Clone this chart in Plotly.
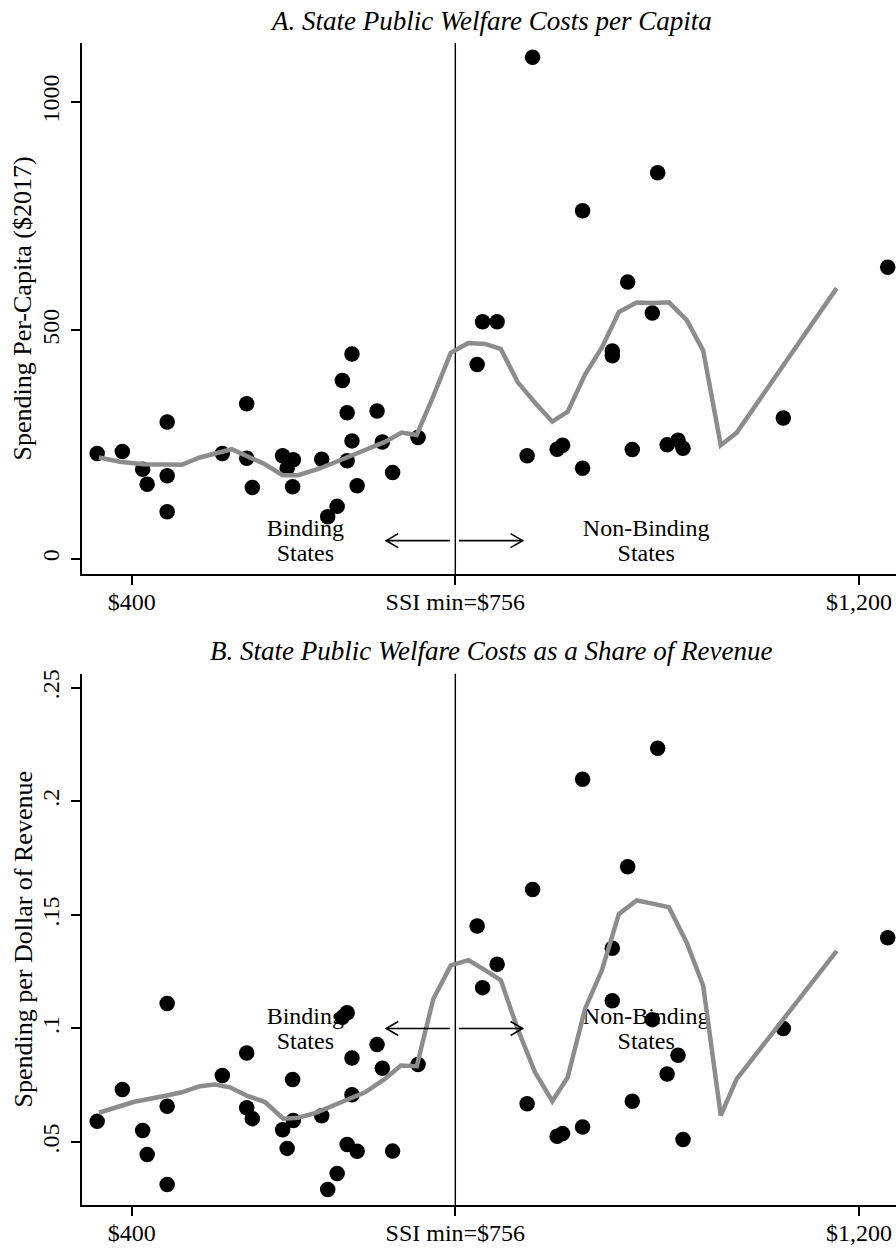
import plotly.graph_objects as go

# ---------------- data ----------------
ssi_level = [362, 389.7, 412, 417, 439, 439, 439, 499.7, 526.5, 526.5, 532.7, 566, 577.8, 571, 577,
             609, 615.6, 626, 631.7, 637, 642.3, 642.3, 637, 648, 669.9, 675.7, 687, 715,
             786, 802, 780, 928.7, 928.7, 972.7, 835, 868, 874, 896, 950.7, 989, 1001, 1006.5,
             1116.8, 841, 978.6, 896, 945.6, 1231.7]

welfare_per_capita = [230.6, 235, 196.3, 163.6, 299.7, 181.9, 103.4, 230.6, 339.7, 220.3, 156.4, 225.6,
                      216.8, 198.5, 157.9, 218.2, 92.5, 115, 390.5, 320, 448.7, 258.3, 214.7, 160.1,
                      323.7, 256.1, 189.1, 265.5, 519.2, 519.2, 425.4, 455, 444.5, 538.2, 225.6, 240,
                      248.7, 198.5, 239.3, 249.6, 259.6, 242.1, 308.5, 1098, 845, 762.2, 605.8, 638.5]

welfare_share = [0.0591, 0.0731, 0.0551, 0.0445, 0.111, 0.0658, 0.0313, 0.0793, 0.0892, 0.0651, 0.0603,
                 0.0554, 0.0595, 0.0472, 0.0775, 0.0616, 0.0291, 0.0361, 0.1049, 0.1069, 0.0870, 0.0708,
                 0.0489, 0.0459, 0.0929, 0.0825, 0.0460, 0.0841, 0.1180, 0.1283, 0.1451, 0.1353, 0.1122,
                 0.1039, 0.0669, 0.0525, 0.0537, 0.0566, 0.0680, 0.0800, 0.0882, 0.0511, 0.1000, 0.1612,
                 0.2234, 0.2098, 0.1712, 0.1400]

smooth_pc_x = [364, 387, 412.8, 455, 475, 510, 546.6, 566, 583, 607, 636.5, 662, 678.6, 697, 713.5,
               731.8, 751, 770.3, 788.7, 806, 824.6, 843.7, 862.7, 879.6, 898.7, 917, 936, 955.5,
               973, 991, 1010.6, 1028.7, 1048, 1065.6, 1175.6]
smooth_pc_y = [221.9, 212.5, 207.2, 205.9, 221.9, 240, 207.2, 183.2, 183.2, 197.9, 221.9, 243.7, 256.1,
               276.4, 271.4, 356.5, 451, 472.7, 470.6, 459.7, 387, 341.8, 300.4, 322.2, 403.6, 461.8,
               540.5, 561, 560, 561.5, 522.5, 455.9, 248.7, 276.4, 592.7]

smooth_sh_x = [364, 401.8, 438.5, 455, 475, 491.6, 508, 528, 546.6, 566.8, 583, 601.7, 621.8, 640,
               656.7, 678.6, 696, 713.5, 731.8, 751, 770.3, 788.7, 806, 824.6, 843.7, 862.7, 879.6,
               898.7, 917, 936, 955.5, 973, 991, 1010.6, 1028.7, 1048, 1065.6, 1175.6]
smooth_sh_y = [0.0629, 0.0676, 0.0705, 0.0719, 0.0746, 0.0753, 0.0741, 0.0702, 0.0676, 0.0603, 0.0607,
               0.0627, 0.0661, 0.0690, 0.0719, 0.0778, 0.0837, 0.0834, 0.1130, 0.1278, 0.1301, 0.1257,
               0.1213, 0.0998, 0.0807, 0.0680, 0.0785, 0.1086, 0.1254, 0.1505, 0.1564, 0.1550, 0.1534,
               0.1378, 0.1188, 0.0617, 0.0778, 0.1342]

x_tickvals = [400, 756, 1200]
x_ticktext = ["$400", "SSI min=$756", "$1,200"]
pc_tickvals = [0, 500, 1000]
pc_ticktext = ["0", "500", "1000"]
sh_tickvals = [0.05, 0.1, 0.15, 0.2, 0.25]
sh_ticktext = [".05", ".1", ".15", ".2", ".25"]

ssi_min = 756
titles = ["<i>A. State Public Welfare Costs per Capita</i>",
          "<i>B. State Public Welfare Costs as a Share of Revenue</i>"]
ytitles = ["Spending Per-Capita ($2017)", "Spending per Dollar of Revenue"]

# label / arrow placement (data units)
bind_x, nonbind_x = 591, 966
label_rows_pc = [62.6, 8.1]
label_rows_sh = [0.1045, 0.0936]
arrow_y_pc, arrow_y_sh = 40, 0.1
arrow_left = (750, 680)
arrow_right = (760, 830)

# ---------------- layout geometry ----------------
W, H = 896, 1249
FONT = "Liberation Serif"
GRAY = "#8c8c8c"


def fx(p):
    return p / W


def fy(p):
    return 1 - p / H


fig = go.Figure()

panels = [
    dict(xa="x", ya="y", yvals=welfare_per_capita, sx=smooth_pc_x, sy=smooth_pc_y,
         rows=label_rows_pc, ay=arrow_y_pc, hy=15.3),
    dict(xa="x2", ya="y2", yvals=welfare_share, sx=smooth_sh_x, sy=smooth_sh_y,
         rows=label_rows_sh, ay=arrow_y_sh, hy=0.00307),
]

shapes = []
for p in panels:
    # text labels (drawn under markers)
    fig.add_trace(go.Scatter(
        x=[bind_x, bind_x, nonbind_x, nonbind_x],
        y=[p["rows"][0], p["rows"][1], p["rows"][0], p["rows"][1]],
        text=["Binding", "States", "Non-Binding", "States"],
        mode="text", textposition="middle center",
        textfont=dict(family=FONT, size=24, color="black"),
        xaxis=p["xa"], yaxis=p["ya"], hoverinfo="skip", cliponaxis=False))
    fig.add_trace(go.Scatter(
        x=ssi_level, y=p["yvals"], mode="markers",
        marker=dict(size=15.5, color="black", line=dict(width=0)),
        xaxis=p["xa"], yaxis=p["ya"]))
    fig.add_trace(go.Scatter(
        x=p["sx"], y=p["sy"], mode="lines",
        line=dict(color=GRAY, width=4.5),
        xaxis=p["xa"], yaxis=p["ya"]))
    # vertical SSI line
    shapes.append(dict(type="line", xref=p["xa"], yref=p["ya"] + " domain",
                       x0=ssi_min, x1=ssi_min, y0=0, y1=1,
                       line=dict(color="black", width=1.4), layer="below"))
    # arrows
    hx = 13.2
    for start, tip in (arrow_left, arrow_right):
        sgn = 1 if tip < start else -1
        shapes.append(dict(type="line", xref=p["xa"], yref=p["ya"],
                           x0=start, x1=tip, y0=p["ay"], y1=p["ay"],
                           line=dict(color="black", width=1.6)))
        shapes.append(dict(type="path", xref=p["xa"], yref=p["ya"],
                           path=f"M {tip + sgn*hx},{p['ay'] + p['hy']} L {tip},{p['ay']} L {tip + sgn*hx},{p['ay'] - p['hy']}",
                           line=dict(color="black", width=1.6)))

axis_common = dict(showline=True, linecolor="black", linewidth=1.5, ticks="outside", ticklen=9,
                   tickwidth=1.5, tickcolor="black", showgrid=False, zeroline=False,
                   tickfont=dict(family=FONT, size=24, color="black"))

fig.update_layout(
    width=W, height=H, margin=dict(l=0, r=0, t=0, b=0),
    paper_bgcolor="white", plot_bgcolor="white", showlegend=False,
    xaxis=dict(domain=[fx(82), 1], range=[345.3, 1240.8], tickvals=x_tickvals, ticktext=x_ticktext,
               anchor="y", ticklabelstandoff=-4, **axis_common),
    yaxis=dict(domain=[fy(572), fy(39)], range=[-33.4, 1129.4], tickvals=pc_tickvals,
               ticktext=pc_ticktext, tickangle=-90, anchor="x", ticklabelstandoff=3, **axis_common),
    xaxis2=dict(domain=[fx(82), 1], range=[345.3, 1240.8], tickvals=x_tickvals, ticktext=x_ticktext,
                anchor="y2", ticklabelstandoff=-4, **axis_common),
    yaxis2=dict(domain=[fy(1205), fy(672)], range=[0.0222, 0.2562], tickvals=sh_tickvals,
                ticktext=sh_ticktext, tickangle=-90, anchor="x2", ticklabelstandoff=3, **axis_common),
    shapes=shapes,
    annotations=[
        dict(text=titles[0], x=fx(490.8), y=fy(17.5), xref="paper", yref="paper",
             showarrow=False, xanchor="center", yanchor="middle",
             font=dict(family=FONT, size=27, color="black")),
        dict(text=titles[1], x=fx(490.8), y=fy(649), xref="paper", yref="paper",
             showarrow=False, xanchor="center", yanchor="middle",
             font=dict(family=FONT, size=27, color="black")),
        dict(text=ytitles[0], x=fx(23), y=fy(305.5), xref="paper", yref="paper",
             showarrow=False, xanchor="center", yanchor="middle", textangle=-90,
             font=dict(family=FONT, size=26, color="black")),
        dict(text=ytitles[1], x=fx(23), y=fy(938.5), xref="paper", yref="paper",
             showarrow=False, xanchor="center", yanchor="middle", textangle=-90,
             font=dict(family=FONT, size=26, color="black")),
    ],
)

fig.write_html("out.html", config={"displayModeBar": False},
               post_script="document.body.style.margin='0px';")
